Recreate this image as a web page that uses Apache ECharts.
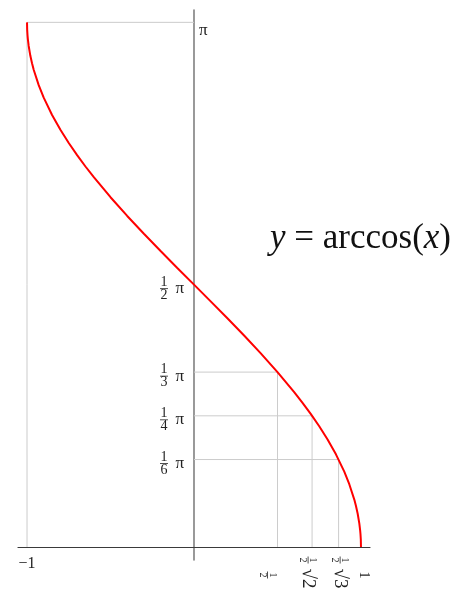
<!DOCTYPE html>
<html><head><meta charset="utf-8">
<script src="https://cdn.jsdelivr.net/npm/echarts@6/dist/echarts.min.js"></script>
<style>html,body{margin:0;padding:0;background:#fff}#c{width:454px;height:594px}</style>
</head><body><div id="c"></div>
<script>
// curve samples (y = arccos x)
const curveX = [-1, -0.999, -0.997, -0.995, -0.99, -0.98, -0.97, -0.96, -0.93, -0.9, -0.85, -0.8, -0.75, -0.7, -0.65, -0.6, -0.5, -0.4, -0.3, -0.2, -0.1, 0,
                0.1, 0.2, 0.3, 0.4, 0.5, 0.6, 0.65, 0.7, 0.75, 0.8, 0.85, 0.9, 0.93, 0.96, 0.97, 0.98, 0.99, 0.995, 0.997, 0.999, 1];
const curveY = [3.1416, 3.0969, 3.0641, 3.0415, 3.0001, 2.9413, 2.8966, 2.8578, 2.7657, 2.6906, 2.5868, 2.4981, 2.4189, 2.3462, 2.2784, 2.2143, 2.0944, 1.9823, 1.8755, 1.7722, 1.6710, 1.5708,
                1.4706, 1.3694, 1.2661, 1.1593, 1.0472, 0.9273, 0.8632, 0.7954, 0.7227, 0.6435, 0.5548, 0.4510, 0.3759, 0.2838, 0.2450, 0.2003, 0.1415, 0.1001, 0.0775, 0.0447, 0];
// guide (helper) lines
const guideX = [-1, 0.5, 0.7071, 0.8660];
const guideY = [3.1416, 1.0472, 0.7854, 0.5236];
// tick labels
const yTickValues = [0.5236, 0.7854, 1.0472, 1.5708];
const yTickLabels = [['1', '6'], ['1', '4'], ['1', '3'], ['1', '2']];
const topTickValues = [3.1416];
const topTickLabels = ['π'];
const xTickValues = [0.5, 0.7071, 0.8660, 1];
const xTickLabels = [['1', '2', ''], ['1', '2', '√2'], ['1', '2', '√3'], ['', '', '1']];
const xLeftTickValues = [-1];
const xLeftTickLabels = ['−1'];
const titleParts = ['y', ' = arccos(', 'x', ')'];

// ---- styling ----
const FONT = 'Liberation Serif';
const XMIN = -1.054, XMAX = 1.054, YMIN = -0.078, YMAX = 3.2156;
// per-label nudges of the rotated x labels (text-frame gap above / below, px)
const xLabelGapTop = [20, 8, 0, 0];
const xLabelGapBottom = [0, 0, 3, 6];
const nearest = (vals, v) => { let b = 0; vals.forEach((t, i) => { if (Math.abs(t - v) < Math.abs(vals[b] - v)) b = i; }); return b; };

const chart = echarts.init(document.getElementById('c'), null, { renderer: 'canvas' });

const guideSeries = guideX.map((gx, i) => ({
  type: 'line', xAxisIndex: 0, yAxisIndex: 0, symbol: 'none', silent: true, z: 1,
  lineStyle: { color: '#cccccc', width: 1 },
  data: [[gx, 0], [gx, guideY[i]], [0, guideY[i]]]
}));

chart.setOption({
  animation: false,
  backgroundColor: '#fff',
  title: {
    left: 270, top: 221, padding: 0,
    text: '{i|' + titleParts[0] + '}{r|' + titleParts[1] + '}{i|' + titleParts[2] + '}{r|' + titleParts[3] + '}',
    textStyle: {
      fontFamily: FONT, fontSize: 35, fontWeight: 'normal', color: '#111',
      rich: {
        i: { fontFamily: FONT, fontSize: 35, fontStyle: 'italic', color: '#111' },
        r: { fontFamily: FONT, fontSize: 35, color: '#111' }
      }
    }
  },
  grid: [
    { left: 18, right: 84, top: 10, bottom: 34, containLabel: false, outerBoundsMode: 'none' },
    { left: 18, right: 84, top: 10, bottom: 47, containLabel: false, outerBoundsMode: 'none' },
    { left: 18, width: 176, top: 10, bottom: 47, containLabel: false, outerBoundsMode: 'none' }
  ],
  xAxis: [
    { // main x axis line (on zero)
      gridIndex: 0, type: 'value', min: XMIN, max: XMAX, position: 'bottom',
      axisLine: { onZero: true, onZeroAxisIndex: 0, lineStyle: { color: '#3a3a3a', width: 1.2 } },
      axisTick: { show: false }, splitLine: { show: false }, axisLabel: { show: false }
    },
    { // rotated labels
      gridIndex: 1, type: 'value', min: XMIN, max: XMAX, position: 'bottom',
      axisLine: { show: false }, axisTick: { show: false }, splitLine: { show: false },
      axisLabel: {
        customValues: xTickValues, rotate: -90, margin: 28, align: 'center', verticalAlign: 'middle',
        color: '#222', fontFamily: FONT,
        formatter: (v) => {
          const k = nearest(xTickValues, v);
          const l = xTickLabels[k];
          let s;
          if (!l[0]) s = '{one|' + l[2] + '}';
          else if (!l[2]) s = '{xn|' + l[0] + '}\n{xb| }\n{xn|' + l[1] + '}';
          else s = '{xn|' + l[0] + '}{xs| }\n{xb| }{r|' + l[2] + '}\n{xn|' + l[1] + '}{xs| }';
          if (xLabelGapTop[k]) s = '{g' + xLabelGapTop[k] + '| }\n' + s;
          if (xLabelGapBottom[k]) s = s + '\n{g' + xLabelGapBottom[k] + '| }';
          return s;
        },
        rich: {
          xn: { fontFamily: FONT, fontSize: 10, width: 7, align: 'center', lineHeight: 7, color: '#222' },
          xb: { fontSize: 9, width: 7, height: 0.8, lineHeight: 3, backgroundColor: '#222' },
          xs: { fontSize: 9, width: 30, lineHeight: 7 },
          r: { fontFamily: FONT, fontSize: 19, width: 30, align: 'left', lineHeight: 3, color: '#222' },
          one: { fontFamily: FONT, fontSize: 14, lineHeight: 14, color: '#222' },
          g20: { fontSize: 4, lineHeight: 20 }, g8: { fontSize: 4, lineHeight: 8 },
          g6: { fontSize: 4, lineHeight: 6 }, g3: { fontSize: 4, lineHeight: 3 }
        }
      }
    },
    { // "−1" label
      gridIndex: 1, type: 'value', min: XMIN, max: XMAX, position: 'bottom',
      axisLine: { show: false }, axisTick: { show: false }, splitLine: { show: false },
      axisLabel: {
        customValues: xLeftTickValues, margin: 9, color: '#222', fontFamily: FONT, fontSize: 16,
        formatter: (v) => xLeftTickLabels[nearest(xLeftTickValues, v)]
      }
    },
    { gridIndex: 2, type: 'value', min: XMIN, max: 0, show: false }
  ],
  yAxis: [
    { // main y axis line (on zero)
      gridIndex: 0, type: 'value', min: YMIN, max: YMAX, position: 'left',
      axisLine: { onZero: true, onZeroAxisIndex: 0, lineStyle: { color: '#808080', width: 1.6 } },
      axisTick: { show: false }, splitLine: { show: false }, axisLabel: { show: false }
    },
    { gridIndex: 1, type: 'value', min: 0, max: YMAX, show: false },
    { // fraction labels, left of the y axis
      gridIndex: 2, type: 'value', min: 0, max: YMAX, position: 'right',
      axisLine: { show: false, onZero: false }, axisTick: { show: false }, splitLine: { show: false },
      axisLabel: {
        customValues: yTickValues, inside: true, margin: 10, color: '#222', fontFamily: FONT,
        padding: [8, 0, 0, 0],
        formatter: (v) => {
          const l = yTickLabels[nearest(yTickValues, v)];
          return '{n|' + l[0] + '}{s| }\n{b| }{p|π}\n{n|' + l[1] + '}{s| }';
        },
        rich: {
          n: { fontFamily: FONT, fontSize: 14, width: 8, align: 'center', lineHeight: 11, color: '#222' },
          s: { fontSize: 12, width: 16, lineHeight: 11 },
          b: { fontSize: 12, width: 8, height: 0.8, lineHeight: 2, backgroundColor: '#222' },
          p: { fontFamily: FONT, fontSize: 17, width: 16, align: 'right', lineHeight: 2, color: '#222' }
        }
      }
    },
    { // π label, right of the y axis
      gridIndex: 2, type: 'value', min: 0, max: YMAX, position: 'right',
      axisLine: { show: false, onZero: false }, axisTick: { show: false }, splitLine: { show: false },
      axisLabel: {
        customValues: topTickValues, margin: 5, verticalAlign: 'top', color: '#222', fontFamily: FONT, fontSize: 17,
        formatter: (v) => topTickLabels[nearest(topTickValues, v)]
      }
    }
  ],
  series: guideSeries.concat([{
    type: 'line', xAxisIndex: 0, yAxisIndex: 0, symbol: 'none', z: 5, smooth: false,
    lineStyle: { color: '#ff0000', width: 2 },
    data: curveX.map((x, i) => [x, curveY[i]])
  }])
});
</script>
</body></html>
